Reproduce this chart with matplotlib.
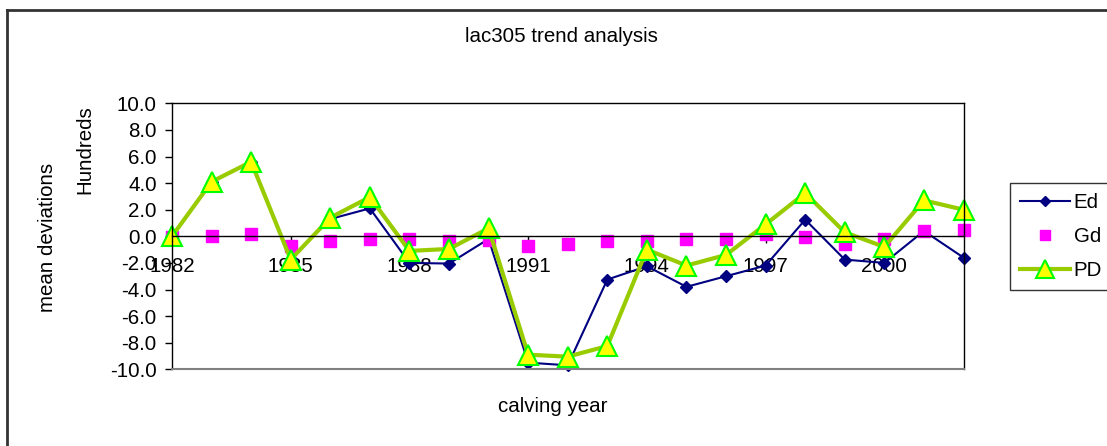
import matplotlib
matplotlib.use('Agg')
import matplotlib.pyplot as plt
from matplotlib.lines import Line2D
from matplotlib.ticker import FormatStrFormatter
import numpy as np

plt.rcParams['font.family'] = ['Liberation Sans', 'DejaVu Sans']

# calving years and mean deviations (in hundreds)
years = list(range(1982, 2003))
ed = [0.0, 4.1, 5.6, -1.7, 1.3, 2.1, -2.0, -2.05, -0.2, -9.5, -9.7,
      -3.25, -2.25, -3.8, -3.0, -2.2, 1.25, -1.75, -2.0, 0.4, -1.6]
gd = [-0.05, 0.0, 0.15, -0.75, -0.35, -0.2, -0.2, -0.35, -0.3, -0.7, -0.6,
      -0.35, -0.35, -0.2, -0.2, 0.2, -0.05, -0.6, -0.2, 0.4, 0.5]
pd_ = [0.0, 4.1, 5.6, -1.75, 1.4, 2.95, -1.1, -0.95, 0.6, -8.9, -9.05,
       -8.25, -1.0, -2.2, -1.4, 0.9, 3.25, 0.3, -0.8, 2.7, 2.0]
xticks = [1982, 1985, 1988, 1991, 1994, 1997, 2000]
yticks = np.arange(-10, 11, 2)

FS = 14.8
W, H = 1107, 446
fig = plt.figure(figsize=(W / 100, H / 100), dpi=100)
ax = fig.add_axes([172 / W, 1 - 369.3 / H, (963.5 - 172) / W, (369.3 - 103.3) / H])

ax.plot(years, ed, color='#000080', lw=1.5, marker='D', ms=6,
        mfc='#000080', mec='#000080', label='Ed', zorder=2, clip_on=False)
ax.plot(years, gd, ls='none', marker='s', ms=8.5, mfc='#FF00FF',
        mec='#FF00FF', label='Gd', zorder=2.1, clip_on=False)
ax.plot(years, pd_, color='#99CC00', lw=3, marker='^', ms=14,
        mfc='#FFFF00', mec='#00FF00', mew=1.5, label='PD', zorder=2.2,
        clip_on=False)

ax.set_xlim(1982, 2002)
ax.set_ylim(-10, 10)
ax.set_xticks(xticks)
ax.set_yticks(yticks)
ax.yaxis.set_major_formatter(FormatStrFormatter('%.1f'))
ax.tick_params(axis='y', direction='out', length=5, width=1, pad=6,
               labelsize=FS, colors='black')
ax.tick_params(axis='x', direction='out', length=5, width=1, pad=10,
               labelsize=FS, colors='black')

# category axis crosses at zero; plot-area border drawn around it
ax.spines['bottom'].set_position(('data', 0))
for side in ['left', 'top', 'right', 'bottom']:
    ax.spines[side].set_color('black')
    ax.spines[side].set_linewidth(1)
ax.axhline(-10, color='#808080', lw=1.5, clip_on=False, zorder=3)

fig.text(561 / W, 1 - 37 / H, 'lac305 trend analysis', ha='center',
         va='center', fontsize=FS)
fig.text(553 / W, 1 - 406 / H, 'calving year', ha='center', va='center',
         fontsize=FS)
fig.text(48 / W, 1 - 237 / H, 'mean deviations', ha='center', va='center',
         rotation=90, fontsize=FS)
fig.text(85 / W, 1 - 150 / H, 'Hundreds', ha='center', va='center',
         rotation=90, fontsize=FS)

leg = fig.legend(loc='upper left', bbox_to_anchor=(1010 / W, 1 - 183 / H),
                 frameon=True, fancybox=False, fontsize=FS, handlelength=2.4,
                 handletextpad=0.2, labelspacing=0.72, borderpad=0.5,
                 borderaxespad=0, markerscale=0.9)
leg.get_frame().set_edgecolor('black')
leg.get_frame().set_linewidth(1)

# chart border along the top and left edges
fig.add_artist(Line2D([7 / W, 7 / W], [0, 1 - 10 / H], color='#333333',
                      lw=2, transform=fig.transFigure))
fig.add_artist(Line2D([7 / W, 1], [1 - 10 / H, 1 - 10 / H], color='#333333',
                      lw=2, transform=fig.transFigure))

fig.savefig('out.png', dpi=100)
